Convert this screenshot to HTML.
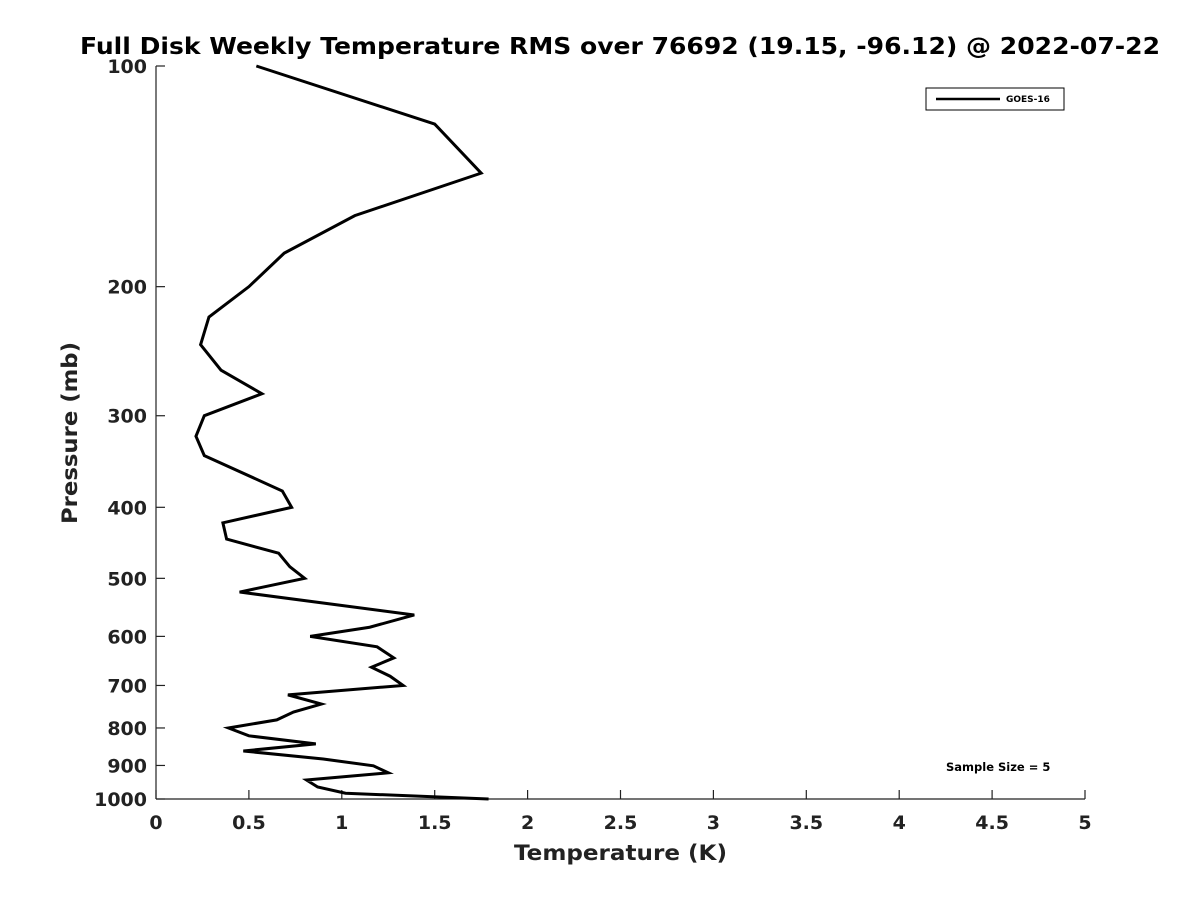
<!DOCTYPE html>
<html><head><meta charset="utf-8"><style>
body{margin:0;background:#fff;}
text{font-family:"DejaVu Sans","Liberation Sans",sans-serif;font-weight:bold;fill:#222;}
</style></head><body>
<svg id="chart" width="1200" height="900" xmlns="http://www.w3.org/2000/svg">
<rect width="1200" height="900" fill="#fff"/>
<text x="80" y="54" font-size="23" textLength="1080" lengthAdjust="spacingAndGlyphs" style="fill:#000">Full Disk Weekly Temperature RMS over 76692 (19.15, -96.12) @ 2022-07-22</text>
<g id="axes"></g>
<text x="514" y="860" font-size="21" textLength="213" lengthAdjust="spacingAndGlyphs">Temperature (K)</text>
<text transform="translate(77,524) rotate(-90)" font-size="21" textLength="182" lengthAdjust="spacingAndGlyphs">Pressure (mb)</text>
<g>
<rect x="926" y="88" width="138" height="22" fill="#fff" stroke="#000" stroke-width="1"/>
<line x1="936" y1="99" x2="1000" y2="99" stroke="#000" stroke-width="2.5"/>
<text x="1006" y="102" font-size="9" style="fill:#000">GOES-16</text>
</g>
<text x="946" y="771" font-size="11.5" style="fill:#000">Sample Size = 5</text>
</svg>
<script>
const temps=[0.54,1.50,1.75,1.07,0.69,0.50,0.285,0.24,0.35,0.57,0.26,0.215,0.26,0.68,0.73,0.36,0.38,0.66,0.72,0.80,0.45,1.39,1.15,0.83,1.19,1.28,1.16,1.26,1.33,0.71,0.89,0.74,0.65,0.39,0.50,0.86,0.47,0.90,1.17,1.25,0.81,0.87,1.02,1.79];
const pressures=[100,120,140,160,180,200,220,240,260,280,300,320,340,380,400,420,442,462,482,500,522,561,583,600,620,642,661,680,700,721,742,761,780,800,820,841,860,882,901,921,942,963,982,1000];
const xTicks=[0,0.5,1,1.5,2,2.5,3,3.5,4,4.5,5];
const xTickLabels=["0","0.5","1","1.5","2","2.5","3","3.5","4","4.5","5"];
const yTicks=[100,200,300,400,500,600,700,800,900,1000];
const yTickLabels=["100","200","300","400","500","600","700","800","900","1000"];
const X0=156,X1=1085,Y0=66,Y1=799;
const xs=v=>X0+(v/5)*(X1-X0);
const ys=p=>Y0+(Math.log10(p)-2)*(Y1-Y0);
const NS="http://www.w3.org/2000/svg";
const g=document.getElementById('axes');
function mk(t,a){const e=document.createElementNS(NS,t);for(const k in a)e.setAttribute(k,a[k]);g.appendChild(e);return e;}
let e=mk('line',{x1:X0,y1:Y0,x2:X0,y2:Y1,stroke:'#222','stroke-width':1.2});


e=mk('line',{x1:X0,y1:Y1,x2:X1,y2:Y1,stroke:'#222','stroke-width':1.2});


xTicks.forEach((v,i)=>{
 mk('line',{x1:xs(v),y1:Y1,x2:xs(v),y2:Y1-9,stroke:'#222','stroke-width':1.2});
 const t=mk('text',{x:xs(v),y:Y1+30,'font-size':19,'text-anchor':'middle'});t.textContent=xTickLabels[i];
 
 
});
yTicks.forEach((p,i)=>{
 mk('line',{x1:X0,y1:ys(p),x2:X0+9,y2:ys(p),stroke:'#222','stroke-width':1.2});
 const t=mk('text',{x:X0-9,y:ys(p)+7,'font-size':19,'text-anchor':'end'});t.textContent=yTickLabels[i];
 
 
});
const pl=mk('polyline',{points:temps.map((t,i)=>xs(t)+','+ys(pressures[i])).join(' '),fill:'none',stroke:'#000','stroke-width':3,'stroke-linejoin':'miter'});


</script>
</body></html>
